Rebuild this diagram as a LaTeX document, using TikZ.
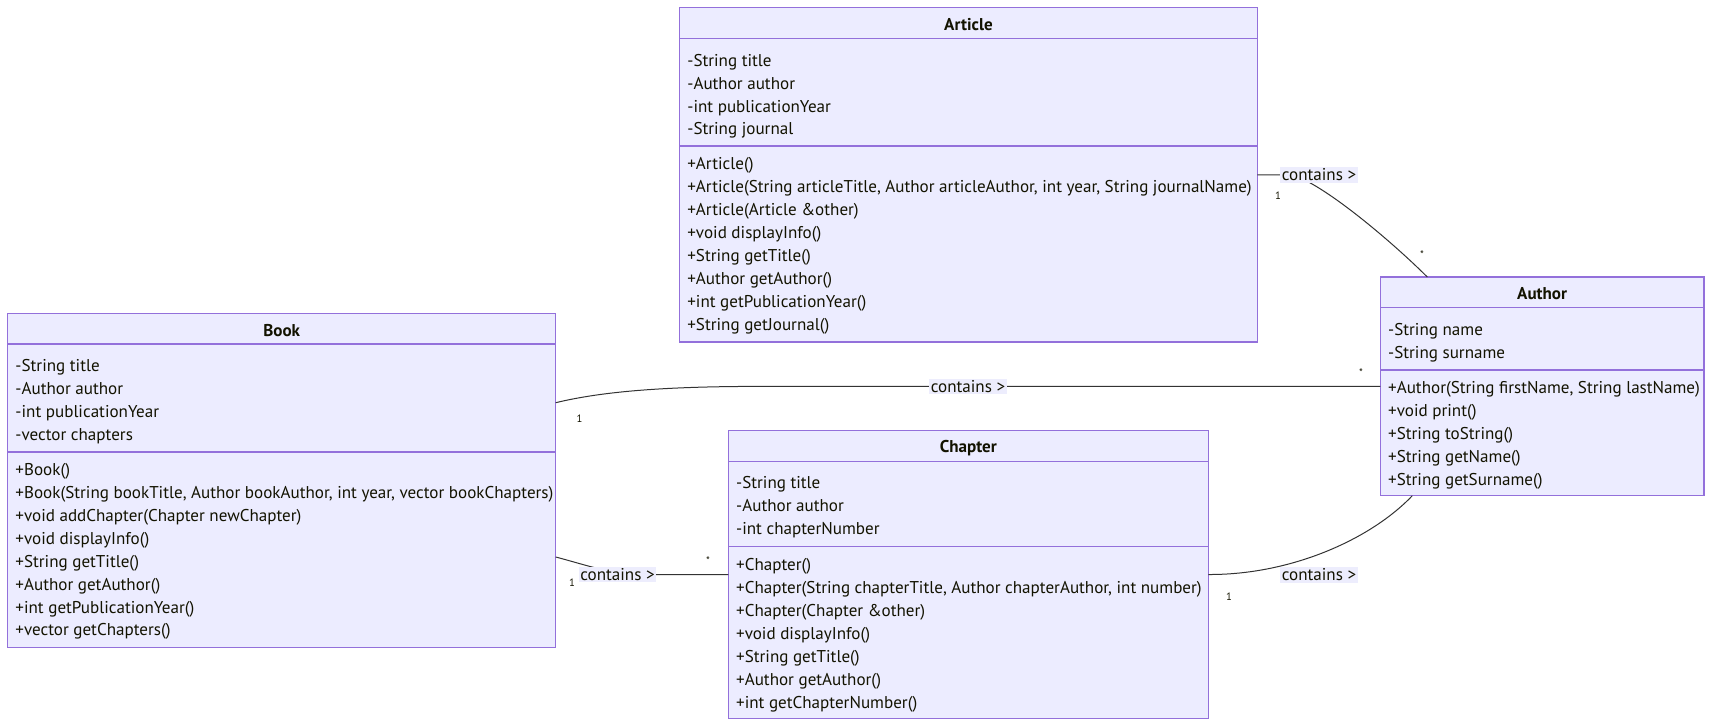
\documentclass[tikz,border=0pt]{standalone}
\usepackage{fontspec}
\setmainfont{PT Sans}
\usetikzlibrary{calc,fit}
\definecolor{classfill}{HTML}{ECECFF}
\definecolor{classline}{HTML}{9370DB}
\definecolor{edgeline}{HTML}{333333}
\definecolor{labelfill}{HTML}{EDEDFD}
\definecolor{ink}{HTML}{131300}
\tikzset{
  classbox/.style={draw=classline, fill=classfill, line width=0.9pt, inner sep=0pt, outer sep=0pt},
  divider/.style={draw=classline, line width=0.9pt},
  classname/.style={font=\bfseries\fontsize{12.8}{14}\selectfont, text=ink, inner sep=0pt},
  members/.style={anchor=west, align=left, inner sep=0pt, font=\fontsize{12.8}{17.2}\selectfont, text=ink},
  rel/.style={draw=edgeline, line width=0.75pt},
  relabel/.style={fill=labelfill, inner sep=1.2pt, font=\fontsize{12.8}{14}\selectfont, text=ink},
  mult/.style={font=\fontsize{8}{9}\selectfont, text=ink, inner sep=0pt}
}
\begin{document}
\begin{tikzpicture}[x=0.75pt,y=-0.75pt]
  \useasboundingbox (0,0) rectangle (1712,727);

  % class boxes
  \node[classbox, fit={(679.5,7.7)(1257.4,342)}] (article) {};
  \node[classbox, fit={(7.6,313.4)(555.7,647.5)}] (book) {};
  \node[classbox, fit={(728.3,430.7)(1208.3,718.3)}] (chapter) {};
  \node[classbox, fit={(1380.3,277)(1704,495.7)}] (author) {};

  % Article
  \draw[divider] ($(article.north west)+(0,30.6)$) -- ($(article.north east)+(0,30.6)$);
  \draw[divider] ($(article.north west)+(0,138.3)$) -- ($(article.north east)+(0,138.3)$);
  \node[classname] (article-name) at ($(article.north)+(0,16.8)$) {Article};
  \node[members] (article-attr) at ($(article.north west)+(7.6,88.6)$)
    {-String title\\-Author author\\-int publicationYear\\-String journal};
  \node[members] (article-ops) at ($(article.north west)+(7.6,238.1)$)
    {+Article()\\+Article(String articleTitle, Author articleAuthor, int year, String journalName)\\
     +Article(Article \&other)\\+void displayInfo()\\+String getTitle()\\+Author getAuthor()\\
     +int getPublicationYear()\\+String getJournal()};

  % Book
  \draw[divider] ($(book.north west)+(0,30.6)$) -- ($(book.north east)+(0,30.6)$);
  \draw[divider] ($(book.north west)+(0,138.6)$) -- ($(book.north east)+(0,138.6)$);
  \node[classname] (book-name) at ($(book.north)+(0,16.8)$) {Book};
  \node[members] (book-attr) at ($(book.north west)+(7.6,88.6)$)
    {-String title\\-Author author\\-int publicationYear\\-vector chapters};
  \node[members] (book-ops) at ($(book.north west)+(7.6,238.1)$)
    {+Book()\\+Book(String bookTitle, Author bookAuthor, int year, vector bookChapters)\\
     +void addChapter(Chapter newChapter)\\+void displayInfo()\\+String getTitle()\\
     +Author getAuthor()\\+int getPublicationYear()\\+vector getChapters()};

  % Chapter
  \draw[divider] ($(chapter.north west)+(0,31)$) -- ($(chapter.north east)+(0,31)$);
  \draw[divider] ($(chapter.north west)+(0,116)$) -- ($(chapter.north east)+(0,116)$);
  \node[classname] (chapter-name) at ($(chapter.north)+(0,17)$) {Chapter};
  \node[members] (chapter-attr) at ($(chapter.north west)+(7.6,76.8)$)
    {-String title\\-Author author\\-int chapterNumber};
  \node[members] (chapter-ops) at ($(chapter.north west)+(7.6,204.3)$)
    {+Chapter()\\+Chapter(String chapterTitle, Author chapterAuthor, int number)\\
     +Chapter(Chapter \&other)\\+void displayInfo()\\+String getTitle()\\
     +Author getAuthor()\\+int getChapterNumber()};

  % Author
  \draw[divider] ($(author.north west)+(0,30.3)$) -- ($(author.north east)+(0,30.3)$);
  \draw[divider] ($(author.north west)+(0,93)$) -- ($(author.north east)+(0,93)$);
  \node[classname] (author-name) at ($(author.north)+(0,16.7)$) {Author};
  \node[members] (author-attr) at ($(author.north west)+(7.6,65.6)$)
    {-String name\\-String surname};
  \node[members] (author-ops) at ($(author.north west)+(7.6,158.4)$)
    {+Author(String firstName, String lastName)\\+void print()\\+String toString()\\
     +String getName()\\+String getSurname()};

  % relations
  \coordinate (au-top) at ($(author.north west)+(47,0)$);
  \coordinate (au-bot) at ($(author.south west)+(32,0)$);
  \coordinate (bk-au) at ($(book.north east)+(0,89.3)$);
  \coordinate (bk-ch) at ($(book.north east)+(0,243.6)$);

  \draw[rel] (article.east) -- (1290,175) .. controls (1315,178) and (1385,235) .. (au-top);
  \draw[rel] (bk-au) .. controls (600,392) and (660,386.4) .. (760,386.4) -- (author.west);
  \draw[rel] (bk-ch) .. controls (590,566) and (610,574.5) .. (650,574.5) -- (chapter.west);
  \draw[rel] (chapter.east) .. controls (1290,575) and (1370,540) .. (au-bot);

  \node[relabel] (art-au-label) at (1319,175) {contains >};
  \node[relabel] (bk-au-label) at (968,386.4) {contains >};
  \node[relabel] (bk-ch-label) at (617.5,574.5) {contains >};
  \node[relabel] (ch-au-label) at (1319,575) {contains >};

  % multiplicities
  \node[mult] (art-au-one) at (1278,196) {1};
  \node[mult] (art-au-many) at (1422,255) {*};
  \node[mult] (bk-au-one) at (579.5,419) {1};
  \node[mult] (bk-au-many) at (1361,373) {*};
  \node[mult] (bk-ch-one) at (572,583) {1};
  \node[mult] (bk-ch-many) at (708,561) {*};
  \node[mult] (ch-au-one) at (1229,597) {1};
\end{tikzpicture}
\end{document}
